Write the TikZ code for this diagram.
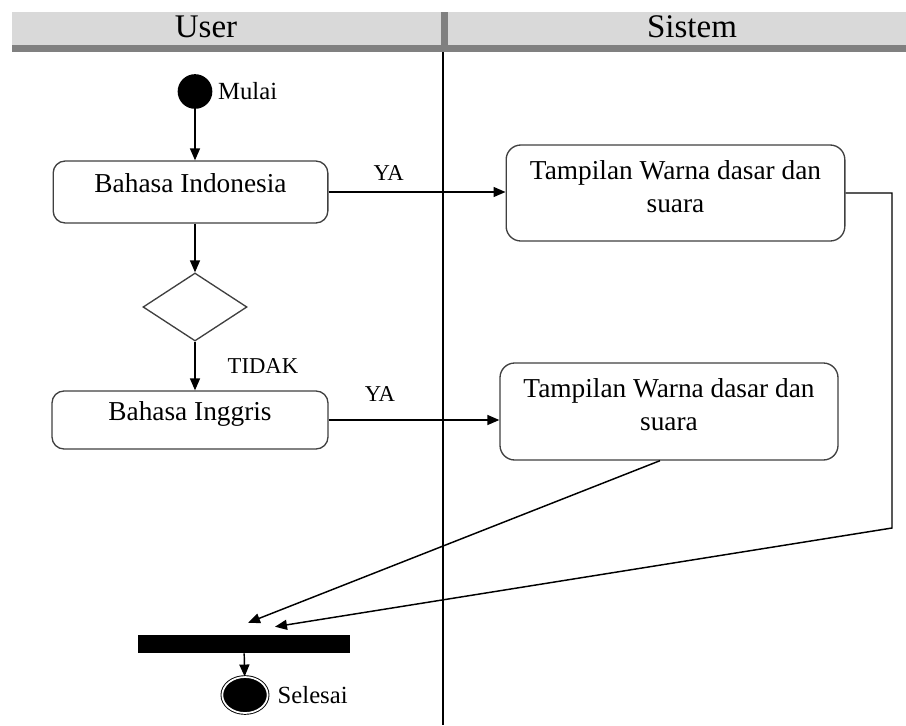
\documentclass[tikz,border=0pt]{standalone}
\usepackage{fontspec}
\setmainfont{Liberation Serif}
\usetikzlibrary{arrows.meta, positioning, shapes.geometric, calc}
\definecolor{lanegray}{HTML}{D9D9D9}
\definecolor{lanedark}{HTML}{808080}
\definecolor{boxline}{HTML}{404040}

\begin{document}
\begin{tikzpicture}[
    x=0.75pt, y=-0.75pt,
    every node/.style={font=\fontsize{20.5}{24.75}\selectfont},
    arr/.style={-{Triangle[length=9pt,width=7.5pt]}, line width=1.1pt, black},
    box/.style={draw=boxline, line width=1pt, fill=white, rounded corners=9pt,
                align=center, inner sep=2pt},
    onebox/.style={box, text height=13pt, text depth=13pt},
    twobox/.style={box, rounded corners=11pt, text depth=10pt},
    lbl/.style={font=\fontsize{17}{20}\selectfont, inner sep=1pt},
    sidelbl/.style={font=\fontsize{18.5}{22}\selectfont, inner sep=1pt},
    hdr/.style={font=\fontsize{24.75}{30}\selectfont, inner sep=0pt, anchor=base}
  ]
  \useasboundingbox (0,0) rectangle (906,725);

  % swimlane header
  \fill[lanegray] (12,12) rectangle (906,45);
  \fill[lanedark] (12,45) rectangle (906,52);
  \fill[lanedark] (441,12) rectangle (448,52);
  \draw[line width=1.2pt] (443,52) -- (443,725);
  \node[hdr] (lnuser) at (206,37) {User};
  \node[hdr] (lnsistem) at (692,37) {Sistem};

  \node[circle, fill=black, minimum size=26pt, inner sep=0pt,
        label={[sidelbl, label distance=3pt]right:Mulai}] (mulai) at (195,91.5) {};

  \node[onebox, minimum width=206pt, minimum height=46.5pt] (bindo) at (190.5,192) {Bahasa Indonesia};
  \node[diamond, draw=boxline, line width=1pt, minimum width=78pt, minimum height=51pt,
        inner sep=0pt] (pilih) at (195,307) {};
  \node[onebox, minimum width=207pt, minimum height=43.5pt] (bing) at (190,420) {Bahasa Inggris};

  \node[twobox, minimum width=254pt, minimum height=72pt] (tampil1) at (675.5,193) {Tampilan Warna dasar dan\\ suara};
  \node[twobox, minimum width=253.5pt, minimum height=72.75pt] (tampil2) at (669,411.5) {Tampilan Warna dasar dan\\ suara};

  \node[fill=black, minimum width=159pt, minimum height=13.5pt, inner sep=0pt] (join) at (244,644) {};
  \node[ellipse, fill=black, draw=black, double=white, double distance=1.3pt, line width=0.7pt,
        minimum width=34pt, minimum height=27pt, inner sep=0pt,
        label={[sidelbl, label distance=6pt]right:Selesai}] (selesai) at (245,695) {};

  \coordinate (belok) at (892,528);

  \draw[arr] (mulai) -- (mulai |- bindo.north);
  \draw[arr] (mulai |- bindo.south) -- (pilih.north);
  \draw[arr] (pilih.south) -- node[lbl, right=23pt] {TIDAK} (pilih |- bing.north);

  \draw[arr] (bindo.east) -- node[lbl, pos=0.34, above=7pt] {YA} (bindo.east -| tampil1.west);
  \draw[arr] (bing.east) -- node[lbl, pos=0.3, above=12pt] {YA} (bing.east -| tampil2.west);

  \draw[arr] (tampil1.east) -| (belok) -- ($(join.north)+(31,-8)$);
  \draw[arr] ($(tampil2.south)+(-9,0)$) -- ($(join.north)+(4,-12)$);

  \draw[arr] (join) -- (selesai);

\end{tikzpicture}
\end{document}
